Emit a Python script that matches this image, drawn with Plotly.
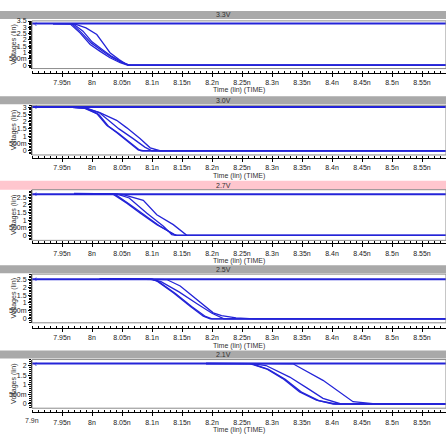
import plotly.graph_objects as go

W, H = 446, 440
BLUE = "#2424d8"
FONT = "Liberation Sans"

# ---------------- data ----------------
titles = ["3.3V", "3.0V", "2.7V", "2.5V", "2.1V"]
vdd = [3.3, 3.0, 2.7, 2.5, 2.1]
bar_colors = ["#a9a9a9", "#a9a9a9", "#ffc6ce", "#a9a9a9", "#a9a9a9"]

t_min, t_max = 7.9, 8.59
x_tick_vals = [7.95, 8.0, 8.05, 8.1, 8.15, 8.2, 8.25, 8.3, 8.35, 8.4, 8.45, 8.5, 8.55]
x_tick_text = ["7.95n", "8n", "8.05n", "8.1n", "8.15n", "8.2n", "8.25n", "8.3n",
               "8.35n", "8.4n", "8.45n", "8.5n", "8.55n"]

y_tick_vals = [
    [0, 0.5, 1, 1.5, 2, 2.5, 3, 3.5],
    [0, 0.5, 1, 1.5, 2, 2.5, 3],
    [0, 0.5, 1, 1.5, 2, 2.5],
    [0, 0.5, 1, 1.5, 2, 2.5],
    [0, 0.5, 1, 1.5, 2],
]
y_tick_text_all = ["0", "500m", "1", "1.5", "2", "2.5", "3", "3.5"]
y_ranges = [[-0.26, 3.51], [-0.29, 3.12], [-0.33, 2.99], [-0.25, 2.82], [-0.22, 2.31]]

# panel 1 (3.3V)
p1_t = [
    [7.935, 7.963, 7.98, 7.997, 8.013, 8.03, 8.047, 8.06, 8.59],
    [7.935, 7.966, 7.982, 7.999, 8.015, 8.032, 8.049, 8.062, 8.59],
    [7.935, 7.968, 7.985, 8.0, 8.017, 8.033, 8.05, 8.063, 8.59],
    [7.935, 7.972, 7.99, 8.008, 8.02, 8.03, 8.045, 8.058, 8.065, 8.59],
]
p1_v = [
    [3.3, 3.3, 2.56, 1.64, 1.12, 0.59, 0.2, 0, 0],
    [3.3, 3.3, 2.6, 1.75, 1.2, 0.66, 0.22, 0, 0],
    [3.3, 3.3, 2.7, 1.85, 1.25, 0.7, 0.25, 0, 0],
    [3.3, 3.25, 2.95, 2.43, 1.65, 0.99, 0.45, 0.06, 0, 0],
]
# panel 2 (3.0V)
p2_t = [
    [7.96, 7.987, 8.008, 8.0245, 8.041, 8.0605, 8.077, 8.082, 8.59],
    [7.96, 7.99, 8.011, 8.027, 8.044, 8.063, 8.079, 8.085, 8.59],
    [7.96, 7.99, 8.012, 8.03, 8.045, 8.068, 8.088, 8.1, 8.59],
    [7.96, 7.988, 8.013, 8.041, 8.058, 8.08, 8.097, 8.113, 8.59],
]
p2_v = [
    [3.0, 2.93, 2.55, 1.75, 1.25, 0.61, 0.05, 0, 0],
    [3.0, 2.93, 2.5, 1.7, 1.2, 0.56, 0.05, 0, 0],
    [3.0, 2.95, 2.62, 2.0, 1.5, 0.85, 0.25, 0, 0],
    [3.0, 2.93, 2.61, 2.09, 1.57, 0.84, 0.2, 0, 0],
]
# panel 3 (2.7V)
p3_t = [
    [7.97, 8.035, 8.058, 8.08, 8.108, 8.1355, 8.14, 8.59],
    [7.97, 8.038, 8.062, 8.084, 8.111, 8.137, 8.142, 8.59],
    [7.97, 8.042, 8.062, 8.091, 8.119, 8.133, 8.14, 8.59],
    [7.97, 8.04, 8.052, 8.0855, 8.108, 8.1355, 8.158, 8.59],
]
p3_v = [
    [2.72, 2.7, 2.11, 1.46, 0.7, 0.05, 0, 0],
    [2.72, 2.7, 2.05, 1.4, 0.66, 0.04, 0, 0],
    [2.73, 2.7, 2.45, 1.46, 0.59, 0.05, 0, 0],
    [2.75, 2.72, 2.66, 2.29, 1.35, 0.7, 0, 0],
]
# panel 4 (2.5V)
p4_t = [
    [8.013, 8.097, 8.108, 8.1355, 8.163, 8.1855, 8.197, 8.59],
    [8.013, 8.1, 8.111, 8.139, 8.166, 8.189, 8.2, 8.59],
    [8.013, 8.1, 8.115, 8.145, 8.175, 8.2, 8.22, 8.59],
    [8.013, 8.12, 8.1245, 8.147, 8.1745, 8.202, 8.216, 8.24, 8.27, 8.59],
]
p4_v = [
    [2.52, 2.5, 2.39, 1.65, 0.81, 0.17, 0, 0],
    [2.52, 2.5, 2.35, 1.6, 0.78, 0.15, 0, 0],
    [2.52, 2.5, 2.35, 1.7, 0.95, 0.35, 0, 0],
    [2.52, 2.5, 2.48, 2.07, 1.23, 0.38, 0.2, 0.06, 0, 0],
]
# panel 5 (2.1V)
p5_t = [
    [8.19, 8.263, 8.2905, 8.318, 8.346, 8.374, 8.402, 8.59],
    [8.19, 8.266, 8.294, 8.322, 8.35, 8.378, 8.406, 8.59],
    [8.19, 8.27, 8.29, 8.3295, 8.36, 8.385, 8.415, 8.59],
    [8.19, 8.32, 8.335, 8.385, 8.435, 8.468, 8.5, 8.59],
]
p5_v = [
    [2.1, 2.1, 1.83, 1.32, 0.63, 0.2, 0, 0],
    [2.1, 2.1, 1.8, 1.28, 0.6, 0.18, 0, 0],
    [2.1, 2.08, 2.0, 1.4, 0.8, 0.29, 0, 0],
    [2.12, 2.12, 2.09, 1.23, 0.12, 0.02, 0, 0],
]
panels_t = [p1_t, p2_t, p3_t, p4_t, p5_t]
panels_v = [p1_v, p2_v, p3_v, p4_v, p5_v]

# ---------------- layout geometry (pixels from top) ----------------
bars = [(8, 16), (94, 102), (179, 188), (264, 272), (350, 358)]
boxes = [(18, 66), (103, 153), (188, 239), (273, 322), (359, 408)]
rulers = [70, 156, 242, 327, 412]
time_lbl = [88, 174, 260, 345, 430]
left_px = 32


def py(p):
    return 1 - p / H


fig = go.Figure()
shapes = []
annotations = []
layout = dict(
    width=W, height=H, margin=dict(l=0, r=0, t=0, b=0),
    paper_bgcolor="white", plot_bgcolor="white", showlegend=False,
    font=dict(family=FONT, size=7, color="#202020"),
)

for i in range(5):
    k = i + 1
    xs = "x" if k == 1 else f"x{k}"
    ys = "y" if k == 1 else f"y{k}"
    # flat supply line
    fig.add_trace(go.Scatter(x=[t_min, t_max], y=[vdd[i], vdd[i]], mode="lines",
                             line=dict(color=BLUE, width=2), xaxis=xs, yaxis=ys,
                             hoverinfo="skip"))
    for tt, vv in zip(panels_t[i], panels_v[i]):
        fig.add_trace(go.Scatter(x=tt, y=vv, mode="lines",
                                 line=dict(color=BLUE, width=1.3), xaxis=xs, yaxis=ys,
                                 hoverinfo="skip"))

    layout[f"xaxis{k}"] = dict(
        domain=[left_px / W, 1], range=[t_min, t_max], anchor="free",
        position=py(rulers[i]),
        tickmode="array", tickvals=x_tick_vals, ticktext=x_tick_text,
        showline=True, linecolor="#000000", linewidth=1,
        ticks="outside", ticklen=3, tickcolor="#000000",
        minor=dict(tickmode="linear", tick0=7.9, dtick=0.01, ticks="inside",
                   ticklen=2, tickcolor="#000000", showgrid=False),
        showgrid=False, zeroline=False,
        tickfont=dict(size=7, family=FONT, color="#202020"),
    )
    layout[f"yaxis{k}"] = dict(
        domain=[py(boxes[i][1]), py(boxes[i][0])], range=y_ranges[i],
        anchor=xs,
        tickmode="array", tickvals=y_tick_vals[i],
        ticktext=y_tick_text_all[:len(y_tick_vals[i])],
        showline=True, linecolor="#000000", linewidth=1,
        ticks="outside", ticklen=3, tickcolor="#000000",
        minor=dict(tickmode="linear", tick0=0, dtick=0.1, ticks="outside",
                   ticklen=2, tickcolor="#000000", showgrid=False),
        showgrid=False, zeroline=False,
        tickfont=dict(size=7, family=FONT, color="#202020"),
    )
    # title bar
    shapes.append(dict(type="rect", xref="paper", yref="paper", x0=0, x1=1,
                       y0=py(bars[i][1]), y1=py(bars[i][0]),
                       fillcolor=bar_colors[i], line=dict(width=0), layer="below"))
    annotations.append(dict(text=titles[i], xref="paper", yref="paper", x=0.5,
                            y=py((bars[i][0] + bars[i][1]) / 2), showarrow=False,
                            font=dict(size=7, color="#303030"), yanchor="middle"))
    # plot box frame
    shapes.append(dict(type="rect", xref=f"{xs} domain", yref=f"{ys} domain",
                       x0=0, x1=1, y0=0, y1=1, line=dict(color="#8c8c8c", width=1),
                       fillcolor="rgba(0,0,0,0)"))
    # y title
    annotations.append(dict(text="Voltages (lin)", xref="paper", yref=f"{ys} domain",
                            x=8 / W, y=0.5, textangle=-90, showarrow=False,
                            font=dict(size=7, color="#303030")))
    # x title
    annotations.append(dict(text="Time (lin) (TIME)", xref=f"{xs} domain", yref="paper",
                            x=0.5, y=py(time_lbl[i]), showarrow=False,
                            font=dict(size=7, color="#303030"), yanchor="middle"))
    # left marker glyph
    annotations.append(dict(text="‹", xref=xs, yref=ys, x=t_min, y=vdd[i],
                            xanchor="left", showarrow=False,
                            font=dict(size=9, color=BLUE)))

annotations.append(dict(text="7.9n", xref="x5", yref="paper", x=7.9, y=py(426),
                        showarrow=False, font=dict(size=7, color="#303030")))

layout["shapes"] = shapes
layout["annotations"] = annotations
fig.update_layout(**layout)
fig.write_html("out.html")
